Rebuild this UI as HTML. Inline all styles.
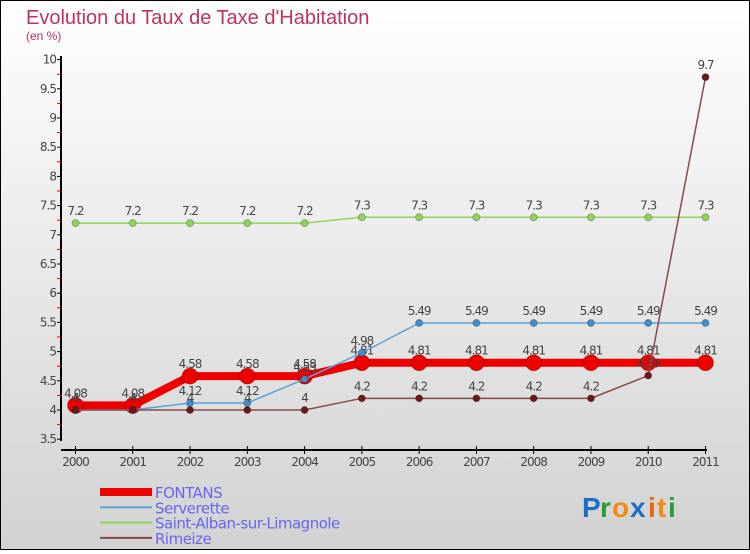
<!DOCTYPE html>
<html><head><meta charset="utf-8"><style>
body{margin:0}
#c{width:750px;height:550px;position:relative;font-family:"DejaVu Sans","Liberation Sans",sans-serif}
</style></head><body>
<div id="c">
<svg id="s" width="750" height="550" xmlns="http://www.w3.org/2000/svg">
<defs><linearGradient id="bg" x1="0" y1="0" x2="0" y2="1"><stop offset="0" stop-color="#ffffff"/><stop offset="1" stop-color="#d2d2d2"/></linearGradient></defs>
<rect x="0.5" y="0.5" width="749" height="549" fill="url(#bg)" stroke="#000"/>
<text x="26" y="24" font-size="20" fill="#c0325f" font-family="Liberation Sans,sans-serif">Evolution du Taux de Taxe d'Habitation</text>
<text x="26" y="40" font-size="12" fill="#c0325f" font-family="Liberation Sans,sans-serif">(en %)</text>
<g id="axes"></g><g id="series"></g><g id="legend"></g>
<g font-size="28" font-family="Liberation Sans,sans-serif" font-weight="bold">
<text x="582" y="517" fill="#1a6fc4">P</text><text x="600" y="517" fill="#2a9a3a">r</text><text x="612" y="517" fill="#f08a10">o</text><text x="630" y="517" fill="#1a6fc4">x</text><text x="648" y="517" fill="#f06010">i</text><text x="657" y="517" fill="#f08a10">t</text><text x="668" y="517" fill="#2a9a3a">i</text>
</g>
</svg>
</div>
<script>
const years=["2000","2001","2002","2003","2004","2005","2006","2007","2008","2009","2010","2011"];
const yTicks=[3.5,4,4.5,5,5.5,6,6.5,7,7.5,8,8.5,9,9.5,10];
const fontans=[4.08,4.08,4.58,4.58,4.58,4.81,4.81,4.81,4.81,4.81,4.81,4.81];
const serverette=[4,4,4.12,4.12,4.53,4.98,5.49,5.49,5.49,5.49,5.49,5.49];
const stalban=[7.2,7.2,7.2,7.2,7.2,7.3,7.3,7.3,7.3,7.3,7.3,7.3];
const rimeize=[4,4,4,4,4,4.2,4.2,4.2,4.2,4.2,4.59,9.7];
const NS="http://www.w3.org/2000/svg";
const x=i=>75.5+i*(630/11);
const y=v=>410-(v-4)*58.4;
function mk(t,a,p){const e=document.createElementNS(NS,t);for(const k in a)e.setAttribute(k,a[k]);p.appendChild(e);return e;}
const ax=document.getElementById('axes');
let e=mk('line',{x1:61,y1:56,x2:61,y2:441,stroke:'#000','stroke-width':2},ax);

e=mk('line',{x1:61,y1:450,x2:707,y2:450,stroke:'#000','stroke-width':2},ax);

yTicks.forEach(v=>{
 mk('line',{x1:57,y1:y(v),x2:61,y2:y(v),stroke:'#000'},ax);
 mk('line',{x1:57,y1:y(v+0.25),x2:61,y2:y(v+0.25),stroke:(v<10?'#e00':'none')},ax);
 const t=mk('text',{x:56,y:y(v)+4,'font-size':12,fill:'#444','text-anchor':'end','letter-spacing':'-1'},ax);t.textContent=String(v);
 
});
years.forEach((yr,i)=>{
 mk('line',{x1:x(i),y1:446,x2:x(i),y2:454,stroke:'#000'},ax);
 const t=mk('text',{x:x(i),y:466,'font-size':12,fill:'#444','text-anchor':'middle','letter-spacing':'-1'},ax);t.textContent=yr;
 
});
const sg=document.getElementById('series');
function draw(data,name,color,w,r,fill){
 const g=mk('g',{},sg);
 
 mk('polyline',{points:data.map((v,i)=>x(i)+','+y(v)).join(' '),fill:'none',stroke:color,'stroke-width':w},g);
 data.forEach((v,i)=>{
  const c=mk('circle',{cx:x(i),cy:y(v),r:r,fill:fill,stroke:'rgba(0,0,0,0.25)'},g);
  
  const t=mk('text',{x:x(i),y:y(v)-8,'font-size':12,fill:'#444','text-anchor':'middle','letter-spacing':'-1'},g);t.textContent=String(v);
 });
}
draw(stalban,'series-saint-alban','#8fd35a',1.5,3.5,'#8fd35a');
draw(fontans,'series-fontans','#ee0000',8,8,'#ee0000');
draw(serverette,'series-serverette','#5ba3d9',1.5,3.5,'#3d8fd0');
draw(rimeize,'series-rimeize','#8a4a4a',1.5,3.5,'#6a1818');
const lg=document.getElementById('legend');
const items=[["FONTANS","#ee0000",8],["Serverette","#5ba3d9",2],["Saint-Alban-sur-Limagnole","#8fd35a",2],["Rimeize","#8a4a4a",2]];
items.forEach((it,i)=>{
 const g=mk('g',{},lg);
 
 const yy=492+i*15.3;
 mk('line',{x1:100,y1:yy,x2:152,y2:yy,stroke:it[1],'stroke-width':it[2]},g);
 const t=mk('text',{x:155,y:yy+6,'font-size':15,fill:'#6666ee','letter-spacing':'-0.5'},g);t.textContent=it[0];
});
</script>
</body></html>
